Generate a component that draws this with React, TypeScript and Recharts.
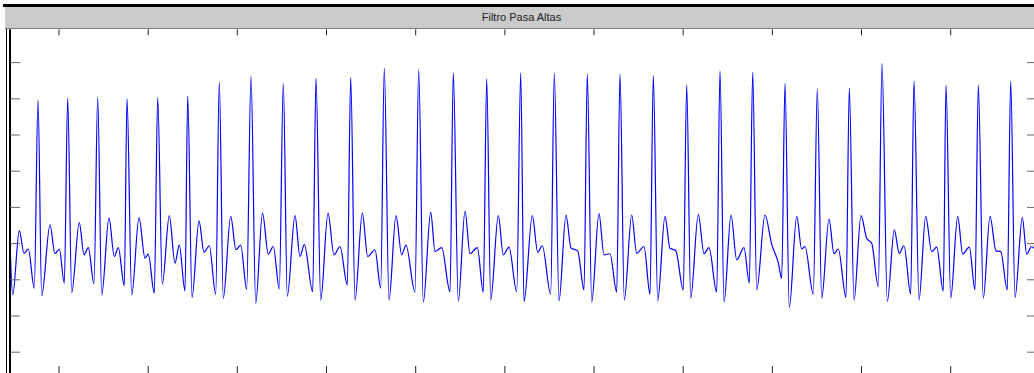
import { LineChart, Line, XAxis, YAxis } from 'recharts';

const title = 'Filtro Pasa Altas';

// sample index of each point
const sampleIdx = [
  0, 2.7, 9.3, 14, 18.3, 24.3,
  28, 31.7, 40, 45, 49.3, 54.3,
  57.7, 61.7, 69.3, 74, 78.3, 84,
  87.7, 91.7, 99, 104.3, 108.3, 114.3,
  117, 121.7, 129, 135, 138.3, 144.3,
  147.7, 152.3, 159.3, 165, 169.3, 175,
  177.7, 182, 189, 194, 199.3, 205.7,
  209.3, 213.3, 220.7, 226, 230.7, 236.7,
  241, 245.7, 252.5, 258.3, 263.3, 269.3,
  273.3, 277.3, 285, 290, 294.3, 302.7,
  306, 310.7, 318, 324, 330, 337.3,
  340.7, 345, 352.3, 357.7, 365, 370.7,
  374.3, 379, 386, 391.7, 396, 405,
  408.7, 413.3, 420.7, 425, 431.7, 440,
  443.3, 448.3, 455, 460, 467.3, 473.3,
  476.7, 480.7, 488.3, 493.3, 499, 506.7,
  510.7, 514, 522.3, 527.7, 532.3, 540.7,
  544.3, 549, 556, 561, 567.7, 574,
  577.3, 581.7, 589, 594, 600, 606.7,
  610, 614.3, 621.7, 626.7, 634, 640,
  643.3, 647.7, 655, 660, 665.7, 673.3,
  676.7, 680.7, 688.3, 694, 699, 706.7,
  710, 714, 721, 726.7, 734, 739.3,
  742.7, 746.7, 755, 761.7, 768.3, 771.7,
  775, 779.3, 786.7, 791.7, 795, 803.3,
  807.3, 811.7, 819, 824, 828.3, 836,
  839.3, 844, 851, 856.7, 861.7, 868.3,
  872, 877.3, 884.3, 889.3, 894, 900.7,
  904, 909, 915.7, 921.7, 926.7, 933.3,
  936, 940.7, 947.7, 952.7, 959.3, 965,
  968.3, 973.3, 980, 986, 990.7, 997.3,
  1000.7, 1005, 1012.3, 1016.7, 1021.7, 1024,
];

// filtered amplitude at each sample
const amplitude = [
  0.02, -1.42, 0.36, -0.27, -0.15, -1.23,
  3.97, -1.44, 0.52, -0.28, -0.15, -1.09,
  4.02, -1.36, 0.58, -0.31, -0.11, -1.11,
  4.03, -1.42, 0.71, -0.36, -0.11, -1.16,
  4.0, -1.42, 0.72, -0.4, -0.29, -1.37,
  4.03, -1.12, 0.77, -0.54, -0.04, -1.31,
  4.08, -1.49, 0.63, -0.24, -0.06, -1.4,
  4.46, -1.51, 0.75, -0.17, -0.04, -1.26,
  4.63, -1.65, 0.84, -0.29, -0.08, -1.25,
  4.43, -1.46, 0.77, -0.36, -0.02, -1.33,
  4.57, -1.56, 0.84, -0.31, -0.08, -1.14,
  4.59, -1.56, 0.84, -0.36, -0.17, -1.23,
  4.85, -1.56, 0.77, -0.31, -0.04, -1.34,
  4.8, -1.62, 0.87, -0.22, -0.11, -1.33,
  4.72, -1.6, 0.9, -0.28, -0.11, -1.34,
  4.55, -1.56, 0.77, -0.31, -0.1, -1.33,
  4.71, -1.6, 0.77, -0.24, -0.06, -1.4,
  4.71, -1.58, 0.79, -0.12, -0.2, -1.28,
  4.68, -1.62, 0.83, -0.31, -0.28, -1.34,
  4.68, -1.56, 0.79, -0.27, -0.08, -1.4,
  4.64, -1.58, 0.75, -0.13, -0.19, -1.28,
  4.38, -1.51, 0.81, -0.28, -0.11, -1.34,
  4.77, -1.62, 0.79, -0.45, -0.11, -1.09,
  4.73, -1.28, 0.79, -0.02, -0.53, -0.96,
  4.43, -1.77, 0.75, -0.15, -0.08, -1.4,
  4.27, -1.51, 0.68, -0.28, -0.15, -1.49,
  4.29, -1.56, 0.77, 0.15, 0.01, -1.19,
  4.98, -1.6, 0.38, -0.27, -0.06, -1.4,
  4.49, -1.56, 0.75, -0.22, -0.1, -1.31,
  4.38, -1.51, 0.75, -0.29, -0.1, -1.28,
  4.38, -1.51, 0.75, -0.2, -0.22, -1.28,
  4.48, -1.49, 0.72, -0.29, -0.08, -0.13,
];

const xTicks = [49, 138.2, 227.3, 316.5, 405.7, 494.9, 584, 673.2, 762.4, 851.5, 940.7];
const yTicks = [-3, -2, -1, 0, 1, 2, 3, 4, 5];

const X_DOMAIN: [number, number] = [0, 1027];
const Y_DOMAIN: [number, number] = [-3.575, 5.92];

const data = sampleIdx.map((n, i) => ({ n, v: amplitude[i] }));

// no labels on this plot, only the tick marks
const NoLabel = () => <g />;

export default function App() {
  return (
    <div
      style={{
        position: 'absolute',
        left: 0,
        top: 0,
        width: 1034,
        height: 373,
        overflow: 'hidden',
        background: '#fff',
      }}
    >
      {/* figure frame + title bar */}
      <div style={{ position: 'absolute', left: 6, top: 6, width: 1, height: 367, background: '#000' }} />
      <div style={{ position: 'absolute', left: 3, top: 4, width: 1031, height: 2.5, background: '#000' }} />
      <div
        style={{
          position: 'absolute',
          left: 5,
          top: 6.5,
          width: 1033,
          height: 21.5,
          background: '#cbcbcb',
          borderBottom: '1.3px solid #7c7c7c',
          textAlign: 'center',
          lineHeight: '21px',
          fontFamily: '"Liberation Sans", Arial, sans-serif',
          fontSize: 11,
          color: '#222',
        }}
      >
        {title}
      </div>

      {/* plot */}
      <div style={{ position: 'absolute', left: 0, top: 0 }}>
        <LineChart
          width={1040}
          height={380}
          data={data}
          margin={{ top: 29.3, right: 3, bottom: 7, left: 10 }}
        >
          <XAxis
            dataKey="n"
            type="number"
            domain={X_DOMAIN}
            ticks={xTicks}
            interval={0}
            allowDataOverflow
            mirror
            height={1}
            tick={NoLabel}
            tickSize={7}
            tickLine={{ stroke: '#222' }}
            axisLine={false}
          />
          <XAxis
            xAxisId="top"
            dataKey="n"
            orientation="top"
            type="number"
            domain={X_DOMAIN}
            ticks={xTicks}
            interval={0}
            allowDataOverflow
            mirror
            height={1}
            tick={NoLabel}
            tickSize={6}
            tickLine={{ stroke: '#222' }}
            axisLine={false}
          />
          <YAxis
            type="number"
            domain={Y_DOMAIN}
            ticks={yTicks}
            interval={0}
            allowDataOverflow
            mirror
            width={1}
            tick={NoLabel}
            tickSize={10}
            tickLine={{ stroke: '#666' }}
            axisLine={{ stroke: '#000', strokeWidth: 2 }}
          />
          <YAxis
            yAxisId="right"
            orientation="right"
            type="number"
            domain={Y_DOMAIN}
            ticks={yTicks}
            interval={0}
            allowDataOverflow
            mirror
            width={1}
            tick={NoLabel}
            tickSize={10}
            tickLine={{ stroke: '#666' }}
            axisLine={false}
          />
          {/* binds the mirrored top/right frame axes to the same samples; draws nothing */}
          <Line
            xAxisId="top"
            yAxisId="right"
            dataKey="v"
            stroke="none"
            dot={false}
            activeDot={false}
            isAnimationActive={false}
          />
          <Line
            type="monotone"
            dataKey="v"
            stroke="#0000ff"
            strokeWidth={1.2}
            dot={false}
            isAnimationActive={false}
          />
        </LineChart>
      </div>
    </div>
  );
}
